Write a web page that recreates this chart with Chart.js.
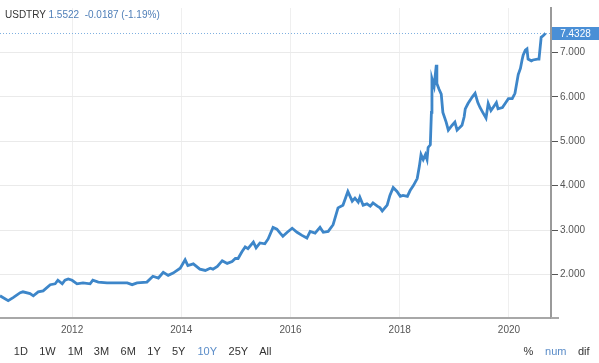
<!DOCTYPE html>
<html>
<head>
<meta charset="utf-8">
<script src="https://cdn.jsdelivr.net/npm/chart.js@4.4.1/dist/chart.umd.min.js"></script>
<style>
  html, body { margin: 0; padding: 0; background: #fff; }
  #wrap { position: relative; width: 599px; height: 363px; overflow: hidden; font-family: "Liberation Sans", Arial, sans-serif; }
  #wrap canvas { position: absolute; left: 0; top: 0; }
  .t { position: absolute; white-space: nowrap; }
  #title { left: 5px; top: 9.8px; font-size: 10px; line-height: 10px; color: #333; }
  #title .v { color: #4f7fb8; }
  .btn { position: absolute; top: 346.4px; font-size: 11px; line-height: 11px; color: #333; transform: translateX(-50%); white-space: nowrap; }
  .btn.on { color: #5a8cc8; }
</style>
</head>
<body>
<div id="wrap">
  <canvas id="c" width="599" height="363"></canvas>
  <div class="t" id="title">USDTRY <span class="v">1.5522&nbsp; -0.0187 (-1.19%)</span></div>
  <div id="btns"></div>
</div>
<script>
// ---- data ----
const symbol = "USDTRY";
const years = [
  2010.68, 2010.83, 2010.92, 2011.05, 2011.10, 2011.23, 2011.29, 2011.38, 2011.47, 2011.60,
  2011.69, 2011.74, 2011.82, 2011.87, 2011.93, 2012.00, 2012.09, 2012.20, 2012.33, 2012.38,
  2012.48, 2012.64, 2012.88, 2013.01, 2013.10, 2013.19, 2013.37, 2013.48, 2013.58, 2013.67,
  2013.76, 2013.85, 2013.98, 2014.07, 2014.12, 2014.22, 2014.34, 2014.44, 2014.53, 2014.58,
  2014.66, 2014.75, 2014.84, 2014.93, 2014.99, 2015.04, 2015.11, 2015.17, 2015.22, 2015.32,
  2015.37, 2015.44, 2015.53, 2015.59, 2015.68, 2015.75, 2015.81, 2015.86, 2015.94, 2016.03,
  2016.12, 2016.21, 2016.30, 2016.36, 2016.45, 2016.54, 2016.60, 2016.69, 2016.78, 2016.87,
  2016.96, 2017.05, 2017.13, 2017.18, 2017.24, 2017.27, 2017.33, 2017.40, 2017.46, 2017.51,
  2017.59, 2017.64, 2017.68, 2017.77, 2017.82, 2017.88, 2017.95, 2018.01, 2018.06, 2018.14,
  2018.19, 2018.25, 2018.32, 2018.36, 2018.39, 2018.43, 2018.47, 2018.50, 2018.52, 2018.56,
  2018.58, 2018.59, 2018.63, 2018.67, 2018.68, 2018.72, 2018.76, 2018.79, 2018.85, 2018.89,
  2018.96, 2019.01, 2019.05, 2019.14, 2019.18, 2019.20, 2019.25, 2019.33, 2019.38, 2019.43,
  2019.47, 2019.52, 2019.58, 2019.62, 2019.67, 2019.71, 2019.77, 2019.80, 2019.88, 2019.93,
  2019.99, 2020.06, 2020.11, 2020.17, 2020.21, 2020.24, 2020.26, 2020.30, 2020.33, 2020.35,
  2020.41, 2020.44, 2020.52, 2020.55, 2020.59, 2020.63, 2020.67
];
const rates = [
  1.52, 1.41, 1.48, 1.59, 1.61, 1.57, 1.52, 1.61, 1.63, 1.77,
  1.79, 1.87, 1.79, 1.87, 1.90, 1.87, 1.79, 1.81, 1.79, 1.87,
  1.83, 1.81, 1.81, 1.81, 1.77, 1.81, 1.83, 1.96, 1.92, 2.05,
  1.98, 2.03, 2.14, 2.33, 2.20, 2.24, 2.12, 2.09, 2.14, 2.12,
  2.18, 2.31, 2.25, 2.29, 2.36, 2.36, 2.51, 2.62, 2.58, 2.73,
  2.60, 2.71, 2.69, 2.80, 3.06, 3.02, 2.93, 2.86, 2.95, 3.04,
  2.95, 2.88, 2.82, 2.97, 2.93, 3.06, 2.95, 2.97, 3.12, 3.50,
  3.56, 3.87, 3.65, 3.72, 3.63, 3.74, 3.56, 3.59, 3.54, 3.61,
  3.54, 3.50, 3.43, 3.56, 3.78, 3.96, 3.87, 3.76, 3.78, 3.76,
  3.89, 4.00, 4.16, 4.44, 4.70, 4.59, 4.70, 4.59, 4.86, 4.92,
  5.65, 6.41, 6.24, 6.72, 6.30, 6.17, 6.06, 5.65, 5.43, 5.25,
  5.36, 5.43, 5.25, 5.36, 5.55, 5.73, 5.85, 6.00, 6.08, 5.87,
  5.76, 5.65, 5.52, 5.85, 5.69, 5.76, 5.87, 5.73, 5.76, 5.85,
  5.96, 5.96, 6.08, 6.50, 6.64, 6.83, 6.94, 7.05, 7.08, 6.85,
  6.81, 6.83, 6.85, 6.85, 7.34, 7.38, 7.4328
];
const lastValue = 7.4328;
const xTicks = [2012, 2014, 2016, 2018, 2020];
const yTicks = [2, 3, 4, 5, 6, 7];
const rangeButtons = ["1D", "1W", "1M", "3M", "6M", "1Y", "5Y", "10Y", "25Y", "All"];
const activeRange = "10Y";
const modeButtons = ["%", "num", "dif"];
const activeMode = "num";

// ---- buttons (HTML text) ----
const btnCenters = [20.8, 47.5, 75.3, 101.5, 128.2, 154, 178.7, 207.2, 238.3, 265.3];
const modeCenters = [528.3, 555.8, 583.7];
const btns = document.getElementById('btns');
rangeButtons.forEach((b, i) => {
  const s = document.createElement('div');
  s.className = 'btn' + (b === activeRange ? ' on' : '');
  s.style.left = btnCenters[i] + 'px';
  s.textContent = b;
  btns.appendChild(s);
});
modeButtons.forEach((b, i) => {
  const s = document.createElement('div');
  s.className = 'btn' + (b === activeMode ? ' on' : '');
  s.style.left = modeCenters[i] + 'px';
  s.textContent = b;
  btns.appendChild(s);
});

// ---- last price line + box, axis corner stub ----
const lastPricePlugin = {
  id: 'lastPrice',
  afterDatasetsDraw(chart) {
    const { ctx, chartArea, scales } = chart;
    const y = Math.round(scales.y.getPixelForValue(lastValue)) + 0.5;
    ctx.save();
    ctx.strokeStyle = '#7fb0e0';
    ctx.lineWidth = 1;
    ctx.setLineDash([1, 2]);
    ctx.beginPath();
    ctx.moveTo(chartArea.left, y);
    ctx.lineTo(chartArea.right, y);
    ctx.stroke();
    ctx.setLineDash([]);
    const bx = chartArea.right + 1, bw = chart.width - bx, bh = 13;
    ctx.fillStyle = '#4a8fd6';
    ctx.fillRect(bx, y - bh / 2, bw, bh);
    ctx.fillStyle = '#ffffff';
    ctx.font = '10px "Liberation Sans", Arial, sans-serif';
    ctx.textAlign = 'center';
    ctx.textBaseline = 'middle';
    ctx.fillText(lastValue.toFixed(4), bx + bw / 2, y + 0.5);
    // bottom axis line continues a little past the price axis
    ctx.strokeStyle = '#a8a8a8';
    ctx.lineWidth = 2;
    ctx.beginPath();
    ctx.moveTo(chartArea.right, chartArea.bottom);
    ctx.lineTo(chartArea.right + 8, chartArea.bottom);
    ctx.stroke();
    ctx.restore();
  }
};

new Chart(document.getElementById('c'), {
  type: 'line',
  data: {
    datasets: [{
      label: symbol,
      data: years.map((x, i) => ({ x: x, y: rates[i] })),
      borderColor: '#3d86c9',
      borderWidth: 2.8,
      pointRadius: 0,
      tension: 0,
      fill: false
    }]
  },
  options: {
    responsive: false,
    animation: false,
    devicePixelRatio: 1,
    layout: { padding: 0 },
    plugins: { legend: { display: false }, tooltip: { enabled: false } },
    scales: {
      x: {
        type: 'linear',
        position: 'bottom',
        min: 2010.68,
        max: 2020.77,
        afterBuildTicks: s => { s.ticks = xTicks.map(v => ({ value: v })); },
        afterFit: s => { s.height = 45; },
        grid: { color: '#efefef', lineWidth: 1, drawTicks: false },
        border: { display: true, color: '#a8a8a8', width: 2 },
        ticks: {
          padding: 6,
          color: '#555',
          font: { family: '"Liberation Sans", Arial, sans-serif', size: 10 },
          callback: v => String(v),
          maxRotation: 0
        }
      },
      y: {
        type: 'linear',
        position: 'right',
        min: 1.02,
        max: 8.0,
        afterBuildTicks: s => { s.ticks = yTicks.map(v => ({ value: v })); },
        afterFit: s => { s.width = 48; },
        grid: { color: '#eaeaea', lineWidth: 1, drawTicks: true, tickLength: 7, tickColor: '#555' },
        border: { display: true, color: '#9a9a9a', width: 2 },
        ticks: {
          padding: 2,
          color: '#555',
          font: { family: '"Liberation Sans", Arial, sans-serif', size: 10 },
          callback: v => v.toFixed(3)
        }
      }
    }
  },
  plugins: [lastPricePlugin]
});
</script>
</body>
</html>
